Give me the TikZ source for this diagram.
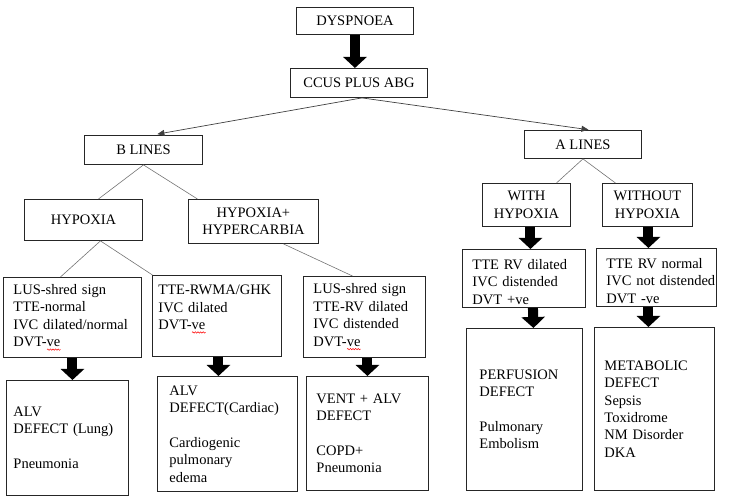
\documentclass[tikz,border=0pt]{standalone}
\usepackage{fontspec}
\setmainfont{Liberation Serif}
\usetikzlibrary{arrows.meta,positioning,decorations.pathmorphing}
\newcommand\spellwave[1]{\setbox0\hbox{#1}\rlap{\tikz[baseline=0pt]\draw[red,line width=0.5pt,
  decorate,decoration={snake,amplitude=0.7pt,segment length=2.6pt}] (0pt,-3pt) -- (\the\wd0,-3pt);}#1}

\begin{document}
\begin{tikzpicture}[x=1pt,y=-1pt,
 box/.style={draw=black!85,line width=0.9pt,align=center,inner sep=0pt,
   anchor=north west,font=\fontsize{14.5}{17.4}\selectfont},
 tbox/.style={box,align=left,inner xsep=10pt},
 fat/.style={-{Triangle[length=11pt,width=23pt]},line width=10pt},
 arr/.style={-{Triangle[length=7pt,width=6pt]},line width=0.7pt,draw=black!75},
 lnk/.style={line width=0.6pt,draw=black!55}]
 \useasboundingbox (0,0) rectangle (736,502);
 \node[box,minimum width=117,minimum height=27] (dysp) at (296,7) {DYSPNOEA};
 \node[box,minimum width=137,minimum height=29] (ccus) at (290,68) {CCUS PLUS ABG};
 \node[box,minimum width=118,minimum height=29] (blines) at (84,135) {B LINES};
 \node[box,minimum width=117,minimum height=28] (alines) at (524,130) {A LINES};
 \node[box,minimum width=118,minimum height=41] (hyp) at (24,199) {HYPOXIA};
 \node[box,minimum width=130,minimum height=44] (hyphc) at (188,199) {HYPOXIA+\\HYPERCARBIA};
 \node[box,minimum width=88,minimum height=43] (withh) at (482,183) {WITH\\HYPOXIA};
 \node[box,minimum width=90,minimum height=43] (without) at (602,183) {WITHOUT\\HYPOXIA};
 \node[tbox,minimum width=138,minimum height=80,text width=118] (lus1) at (3,277)
   {LUS-shred sign\\TTE-normal\\IVC dilated/normal\\DVT-\spellwave{ve}};
 \node[tbox,inner xsep=6pt,minimum width=129,minimum height=81,text width=117] (tte1) at (152,275)
   {TTE-RWMA/GHK\\IVC dilated\\DVT-\spellwave{ve}\\\mbox{}};
 \node[tbox,minimum width=122,minimum height=81,text width=102] (lus2) at (303,276)
   {LUS-shred sign\\TTE-RV dilated\\IVC distended\\DVT-\spellwave{ve}};
 \node[tbox,minimum width=123,minimum height=58,text width=103] (rvd) at (462,249)
   {\rule{0pt}{17pt}TTE RV dilated\\IVC distended\\DVT +ve};
 \node[tbox,minimum width=120,minimum height=58,text width=100] (rvn) at (596,248)
   {\rule{0pt}{17pt}\mbox{TTE RV normal}\\\mbox{IVC not distended}\\\mbox{DVT -ve}};
 \node[tbox,inner xsep=7pt,minimum width=122,minimum height=115,text width=108] (alv) at (6,380)
   {ALV\\DEFECT (Lung)\\[17.4pt]Pneumonia};
 \node[tbox,inner xsep=12pt,minimum width=140,minimum height=115,text width=116] (card) at (157,376)
   {ALV\\DEFECT(Cardiac)\\[17.4pt]Cardiogenic\\pulmonary\\edema};
 \node[tbox,minimum width=122,minimum height=114,text width=102] (vent) at (306,376)
   {VENT + ALV\\DEFECT\\[17.4pt]COPD+\\Pneumonia};
 \node[tbox,inner xsep=13pt,minimum width=116,minimum height=162,text width=90] (perf) at (466,328)
   {PERFUSION\\DEFECT\\[17.4pt]Pulmonary\\Embolism};
 \node[tbox,minimum width=120,minimum height=163,text width=100] (meta) at (594,327)
   {METABOLIC\\DEFECT\\Sepsis\\Toxidrome\\NM Disorder\\DKA};
 \draw[fat] (dysp.south) -- ([xshift=-4]ccus.north);
 \draw[arr,shorten >=5pt] ([xshift=3]ccus.south) -- ([xshift=9]blines.north);
 \draw[arr,shorten >=2pt] ([xshift=3]ccus.south) -- ([xshift=7.5]alines.north);
 \draw[lnk] (blines.south) -- ([xshift=15]hyp.north);
 \draw[lnk] (blines.south) -- ([xshift=-56]hyphc.north);
 \draw[lnk] (alines.south) -- ([xshift=30]withh.north);
 \draw[lnk] (alines.south) -- ([xshift=-32]without.north);
 \draw[lnk] ([xshift=17]hyp.south) -- ([xshift=-12]lus1.north);
 \draw[lnk] ([xshift=17]hyp.south) -- ([xshift=-64.5]tte1.north);
 \draw[lnk] ([xshift=30]hyphc.south) -- ([xshift=-12]lus2.north);
 \draw[fat] (lus1.south) -- ([xshift=5]alv.north);
 \draw[fat] ([xshift=1.5]tte1.south) -- ([xshift=-9]card.north);
 \draw[fat] ([xshift=3]lus2.south) -- (vent.north);
 \draw[fat] ([xshift=4]withh.south) -- ([xshift=6.5]rvd.north);
 \draw[fat] ([xshift=1]without.south) -- ([xshift=-8]rvn.north);
 \draw[fat] ([xshift=9]rvd.south) -- ([xshift=9]perf.north);
 \draw[fat] ([xshift=-8]rvn.south) -- ([xshift=-6]meta.north);
\end{tikzpicture}
\end{document}
